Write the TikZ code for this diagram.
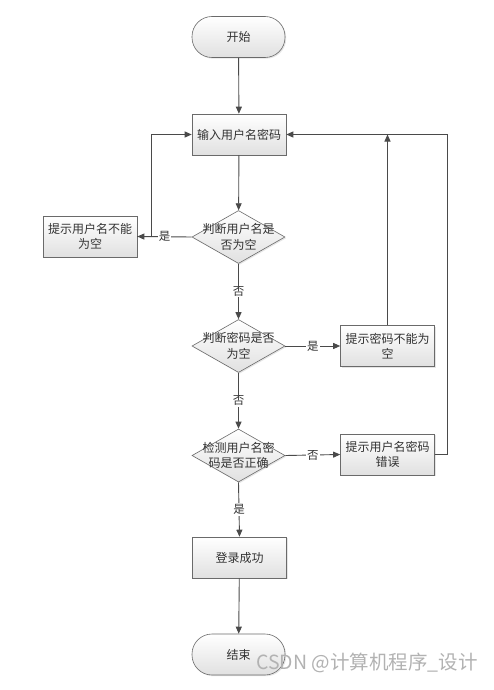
\documentclass[tikz,border=0pt]{standalone}
\usepackage{fontspec}
\setmainfont{Noto Sans CJK SC}
\usetikzlibrary{arrows.meta,shapes.geometric,shadows}
\definecolor{lc}{HTML}{4A4A4A}
\definecolor{bc}{HTML}{6A6A6A}
\definecolor{tc}{HTML}{333333}
\begin{document}
\begin{tikzpicture}[x=1pt,y=-1pt,
  every node/.style={font=\fontsize{12}{15.5}\selectfont, text=tc},
  shade/.style={top color=white, bottom color=black!12, draw=bc, line width=0.6pt,
     drop shadow={shadow xshift=1.2pt, shadow yshift=-1.2pt, opacity=0.25, fill=black!40}},
  term/.style={shade, rectangle, rounded corners=20pt, minimum width=93pt, minimum height=41pt, inner sep=0pt},
  proc/.style={shade, rectangle, minimum width=94pt, minimum height=41pt, inner sep=0pt, align=center},
  dec/.style={shade, diamond, minimum width=93pt, minimum height=53pt, inner sep=0pt},
  dtext/.style={align=center, font=\fontsize{12}{15.5}\selectfont, text=tc},
  conn/.style={draw=lc, line width=0.9pt, -{Triangle[length=7pt,width=6pt]}},
  lbl/.style={fill=white, inner sep=1pt, font=\fontsize{11.5}{12}\selectfont}
]
\useasboundingbox (0,0) rectangle (494,690);
\fill[white] (0,0) rectangle (494,690);

\node[term] (start) at (238.5,37) {开始};
\node[proc] (input) at (239,134.5) {输入用户名密码};
\node[dec, label={[dtext]center:判断用户名是\\否为空}] (d1) at (238.5,237) {};
\node[proc] (nameempty) at (90,236.5) {提示用户名不能\\为空};
\node[dec, label={[dtext]center:判断密码是否\\为空}] (d2) at (238.5,346) {};
\node[proc] (pwempty) at (387.5,346) {提示密码不能为\\空};
\node[dec, label={[dtext]center:检测用户名密\\码是否正确}] (d3) at (238.5,455.5) {};
\node[proc] (wrong) at (387.5,454.5) {提示用户名密码\\错误};
\node[proc] (ok) at (239.5,557.5) {登录成功};
\node[term] (end) at (238.5,654.5) {结束};

\draw[conn] (start) -- (input);
\draw[conn] (input) -- (d1);
\draw[conn] (d1.west) -- node[lbl]{是} (nameempty.east);
\draw[conn] (nameempty.east) -- ++(14,0) |- (input.west);
\draw[conn] (d1.south) -- node[lbl]{否} (d2.north);
\draw[conn] (d2.east) -- node[lbl]{是} (pwempty.west);
\draw[conn] (pwempty.north) -- (pwempty.north |- input.east);
\draw[conn] (d2.south) -- node[lbl]{否} (d3.north);
\draw[conn] (d3.east) -- node[lbl]{否} (wrong.west);
\draw[conn] (wrong.east) -- ++(12.5,0) |- (input.east);
\draw[conn] (d3.south) -- node[lbl]{是} (ok.north);
\draw[conn] (ok) -- (end);

\node[text=black!30, font=\fontsize{19.5}{20}\selectfont, inner sep=0pt] (wm) at (367,663) {CSDN @计算机程序\_设计};
\end{tikzpicture}
\end{document}
